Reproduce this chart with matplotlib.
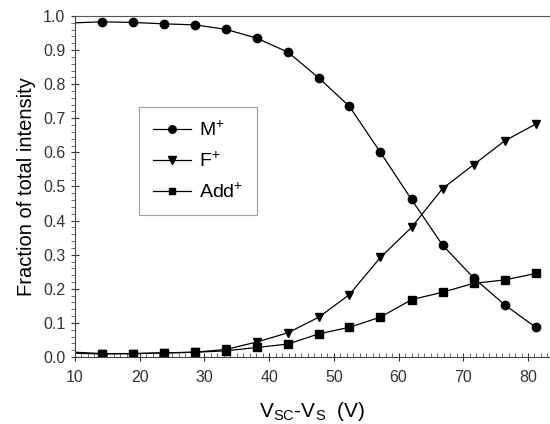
import matplotlib
matplotlib.use("Agg")
import matplotlib.pyplot as plt
from matplotlib.ticker import MultipleLocator

plt.rcParams['font.family'] = ['Liberation Sans', 'DejaVu Sans']
plt.rcParams['mathtext.fontset'] = 'custom'
plt.rcParams['mathtext.rm'] = 'Liberation Sans'
plt.rcParams['mathtext.it'] = 'Liberation Sans'

# voltage (first entry = start of drawn curve, no marker)
voltage = [10.0, 14.2, 19.0, 23.8, 28.5, 33.3, 38.1, 42.9, 47.7, 52.4, 57.2,
           62.0, 66.8, 71.6, 76.4, 81.2]
m_plus = [0.980, 0.983, 0.981, 0.977, 0.974, 0.961, 0.935, 0.894, 0.818, 0.735,
          0.600, 0.462, 0.328, 0.232, 0.153, 0.087]
f_plus = [0.014, 0.010, 0.010, 0.012, 0.014, 0.022, 0.044, 0.071, 0.117, 0.183,
          0.292, 0.380, 0.494, 0.564, 0.634, 0.683]
add_plus = [0.011, 0.009, 0.010, 0.012, 0.014, 0.018, 0.028, 0.038, 0.068, 0.087,
            0.117, 0.168, 0.190, 0.216, 0.226, 0.245]

fig = plt.figure(figsize=(5.5, 4.24), dpi=100)
ax = fig.add_axes([75/550, 1-357/424, 1-75/550, (357-16)/424])

mk = list(range(1, len(voltage)))
ax.plot(voltage, m_plus, color='black', lw=0.9, marker='o', ms=6,
        markevery=mk, label='M$^{+}$')
ax.plot(voltage, f_plus, color='black', lw=0.9, marker='v', ms=6,
        markevery=mk, label='F$^{+}$')
ax.plot(voltage, add_plus, color='black', lw=0.9, marker='s', ms=5.5,
        markevery=mk, label='Add$^{+}$')

ax.set_xlim(10, 83.4)
ax.set_ylim(0, 1.0)
ax.spines['right'].set_visible(False)
ax.spines['top'].set_color('#555555')
ax.xaxis.set_major_locator(MultipleLocator(10))
ax.xaxis.set_minor_locator(MultipleLocator(1))
ax.yaxis.set_major_locator(MultipleLocator(0.1))
ax.yaxis.set_minor_locator(MultipleLocator(0.02))
ax.yaxis.set_major_formatter(matplotlib.ticker.FormatStrFormatter('%.1f'))
ax.tick_params(axis='x', which='major', direction='inout', length=6, labelsize=11.5,
               pad=6, colors='#333333')
ax.tick_params(axis='x', which='minor', direction='in', length=3, colors='#555555')
ax.tick_params(axis='y', which='major', direction='inout', length=6, labelsize=11.5,
               pad=4, colors='#333333')
ax.tick_params(axis='y', which='minor', direction='out', length=3, colors='#555555')
ax.tick_params(top=False, right=False)
for s in ['left', 'bottom']:
    ax.spines[s].set_color('#444444')

ax.set_ylabel('Fraction of total intensity', fontsize=14.5, labelpad=5)
ax.set_xlabel('V$_{\\rm SC}$-V$_{\\rm S}$  (V)', fontsize=15, labelpad=11)

leg = ax.legend(loc='upper left', bbox_to_anchor=((139-75)/475, (357-107)/341),
                borderaxespad=0, fontsize=14, frameon=True, fancybox=False,
                edgecolor='#888888', handlelength=1.95, borderpad=0.7,
                labelspacing=0.6, handletextpad=0.45, markerscale=0.9)
leg.get_frame().set_linewidth(0.8)

fig.savefig('out.png', dpi=100)
